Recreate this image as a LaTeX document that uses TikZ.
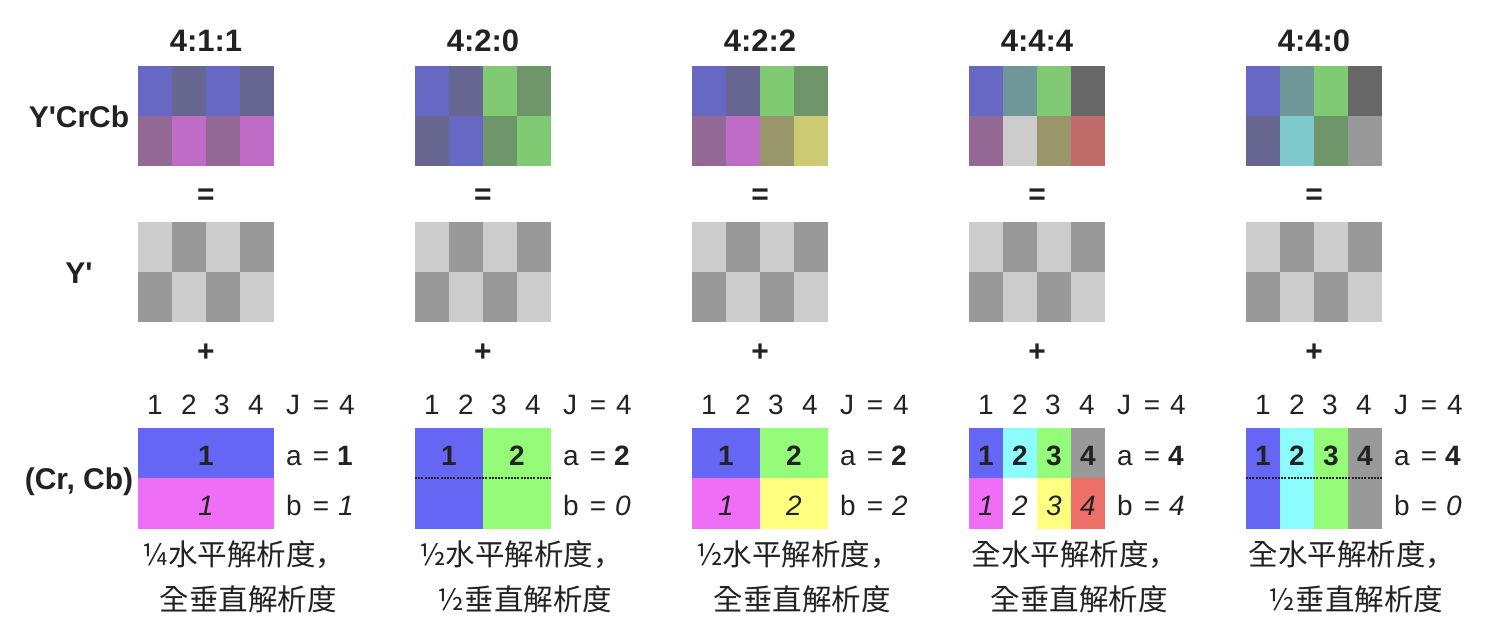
\documentclass[tikz,border=0pt]{standalone}
\usepackage{fontspec}
\setmainfont{Liberation Sans}
\newfontfamily\cjk{Noto Sans CJK TC}
\newfontfamily\cjksc{Noto Sans CJK SC}
\newcommand\zcomma{{\cjksc ，}}
\definecolor{ink}{HTML}{222222}
% composite (Y'CrCb) colours
\definecolor{BL}{HTML}{6767C4}
\definecolor{BD}{HTML}{666690}
\definecolor{ML}{HTML}{BF6CC7}
\definecolor{MD}{HTML}{936894}
\definecolor{GL}{HTML}{80CA73}
\definecolor{GD}{HTML}{6F966B}
\definecolor{YL}{HTML}{CCCB74}
\definecolor{YD}{HTML}{99966A}
\definecolor{TD}{HTML}{709797}
\definecolor{CL}{HTML}{80C9CA}
\definecolor{KD}{HTML}{676767}
\definecolor{WL}{HTML}{CCCCCC}
\definecolor{RD}{HTML}{BE6B69}
\definecolor{KG}{HTML}{999999}
% luma
\definecolor{yl}{HTML}{CCCCCC}
\definecolor{yd}{HTML}{999999}
% chroma
\definecolor{cB}{HTML}{6666F5}
\definecolor{cM}{HTML}{EE6EF5}
\definecolor{cG}{HTML}{94FC78}
\definecolor{cC}{HTML}{8CFCFC}
\definecolor{cY}{HTML}{FFFF80}
\definecolor{cK}{HTML}{999999}
\definecolor{cR}{HTML}{EC6F6A}
\definecolor{cW}{HTML}{FFFFFF}
\tikzset{
  ttl/.style={font=\bfseries\fontsize{31}{36}\selectfont, text=ink, anchor=base, inner sep=0pt},
  side/.style={font=\bfseries\fontsize{30}{36}\selectfont, text=ink, anchor=base, inner sep=0pt},
  op/.style={font=\bfseries\fontsize{30}{36}\selectfont, text=ink, inner sep=0pt},
  num/.style={font=\fontsize{28}{32}\selectfont, text=ink, anchor=base, inner sep=0pt},
  cnum/.style={font=\fontsize{28}{32}\selectfont, text=ink, anchor=base, inner sep=0pt},
  cn/.style={font=\cjk\fontsize{29.5}{34}\selectfont, text=ink, anchor=base, inner sep=0pt},
  sep/.style={line width=1.5pt, dash pattern=on 2pt off 1.2pt, draw=ink},
}
% one row of four cells: x0, y0, colours
\newcommand\quadrow[6]{%
  \fill[#3] (#1,#2) rectangle ++(34,50);
  \fill[#4] ({#1+34},#2) rectangle ++(34,50);
  \fill[#5] ({#1+68},#2) rectangle ++(34,50);
  \fill[#6] ({#1+102},#2) rectangle ++(34,50);}
% common parts of one block
\newcommand\blk[7]{%
  \node[ttl] (t#1) at ({#2+68},51) {#3};
  \quadrow{#2}{222}{yl}{yd}{yl}{yd}
  \quadrow{#2}{272}{yd}{yl}{yd}{yl}
  \node[op] (eq#1) at ({#2+68},197) {=};
  \node[op] (pl#1) at ({#2+68},353) {+};
  \node[num] (ca#1) at ({#2+17},414) {1};
  \node[num] (cb#1) at ({#2+51},414) {2};
  \node[num] (cc#1) at ({#2+84},414) {3};
  \node[num] (cd#1) at ({#2+118},414) {4};
  \node[num] (jJ#1) at ({#2+155},414) {J};
  \node[num] (jE#1) at ({#2+183},414) {=};
  \node[num] (jV#1) at ({#2+209},414) {4};
  \node[num] (aA#1) at ({#2+156},465) {a};
  \node[num] (aE#1) at ({#2+183},465) {=};
  \node[num] (aV#1) at ({#2+207},465) {\bfseries #4};
  \node[num] (bB#1) at ({#2+156},515) {b};
  \node[num] (bE#1) at ({#2+183},515) {=};
  \node[num] (bV#1) at ({#2+208},515) {\itshape #5};
  \node[cn] (la#1) at ({#2+106},565) {#6};
  \node[cn] (lb#1) at ({#2+110},610) {#7};
}
\begin{document}
\begin{tikzpicture}[x=1pt,y=-1pt]
\useasboundingbox (0,0) rectangle (1512,640);
% side labels
\node[side] (lycc) at (79,127) {Y\textquotesingle CrCb};
\node[side] (ly) at (79,283) {Y\textquotesingle};
\node[side] (lc) at (79,489) {(Cr, Cb)};

% ---------- 4:1:1 ----------
\quadrow{138}{66}{BL}{BD}{BL}{BD}
\quadrow{138}{116}{MD}{ML}{MD}{ML}
\fill[cB] (138,428) rectangle ++(136,50);
\fill[cM] (138,478) rectangle ++(136,51);
\node[cnum] (k11) at (206,465) {\bfseries 1};
\node[cnum] (k12) at (206,515) {\itshape 1};
\blk{1}{138}{4:1:1}{1}{1}{¼水平解析度\zcomma}{全垂直解析度}

% ---------- 4:2:0 ----------
\quadrow{415}{66}{BL}{BD}{GL}{GD}
\quadrow{415}{116}{BD}{BL}{GD}{GL}
\fill[cB] (415,428) rectangle ++(68,101);
\fill[cG] (483,428) rectangle ++(68,101);
\draw[sep] (415,478) -- (551,478);
\node[cnum] (k21) at (449,465) {\bfseries 1};
\node[cnum] (k22) at (517,465) {\bfseries 2};
\blk{2}{415}{4:2:0}{2}{0}{½水平解析度\zcomma}{½垂直解析度}

% ---------- 4:2:2 ----------
\quadrow{692}{66}{BL}{BD}{GL}{GD}
\quadrow{692}{116}{MD}{ML}{YD}{YL}
\fill[cB] (692,428) rectangle ++(68,50);
\fill[cG] (760,428) rectangle ++(68,50);
\fill[cM] (692,478) rectangle ++(68,51);
\fill[cY] (760,478) rectangle ++(68,51);
\node[cnum] (k31) at (726,465) {\bfseries 1};
\node[cnum] (k32) at (794,465) {\bfseries 2};
\node[cnum] (k33) at (726,515) {\itshape 1};
\node[cnum] (k34) at (794,515) {\itshape 2};
\blk{3}{692}{4:2:2}{2}{2}{½水平解析度\zcomma}{全垂直解析度}

% ---------- 4:4:4 ----------
\quadrow{969}{66}{BL}{TD}{GL}{KD}
\quadrow{969}{116}{MD}{WL}{YD}{RD}
\fill[cB] (969,428) rectangle ++(34,50);
\fill[cC] (1003,428) rectangle ++(34,50);
\fill[cG] (1037,428) rectangle ++(34,50);
\fill[cK] (1071,428) rectangle ++(34,50);
\fill[cM] (969,478) rectangle ++(34,51);
\fill[cW] (1003,478) rectangle ++(34,51);
\fill[cY] (1037,478) rectangle ++(34,51);
\fill[cR] (1071,478) rectangle ++(34,51);
\node[cnum] (k41) at (986,465) {\bfseries 1};
\node[cnum] (k42) at (1020,465) {\bfseries 2};
\node[cnum] (k43) at (1054,465) {\bfseries 3};
\node[cnum] (k44) at (1088,465) {\bfseries 4};
\node[cnum] (k45) at (986,515) {\itshape 1};
\node[cnum] (k46) at (1020,515) {\itshape 2};
\node[cnum] (k47) at (1054,515) {\itshape 3};
\node[cnum] (k48) at (1088,515) {\itshape 4};
\blk{4}{969}{4:4:4}{4}{4}{全水平解析度\zcomma}{全垂直解析度}

% ---------- 4:4:0 ----------
\quadrow{1246}{66}{BL}{TD}{GL}{KD}
\quadrow{1246}{116}{BD}{CL}{GD}{KG}
\fill[cB] (1246,428) rectangle ++(34,101);
\fill[cC] (1280,428) rectangle ++(34,101);
\fill[cG] (1314,428) rectangle ++(34,101);
\fill[cK] (1348,428) rectangle ++(34,101);
\draw[sep] (1246,478) -- (1382,478);
\node[cnum] (k51) at (1263,465) {\bfseries 1};
\node[cnum] (k52) at (1297,465) {\bfseries 2};
\node[cnum] (k53) at (1331,465) {\bfseries 3};
\node[cnum] (k54) at (1365,465) {\bfseries 4};
\blk{5}{1246}{4:4:0}{4}{0}{全水平解析度\zcomma}{½垂直解析度}
\end{tikzpicture}
\end{document}
